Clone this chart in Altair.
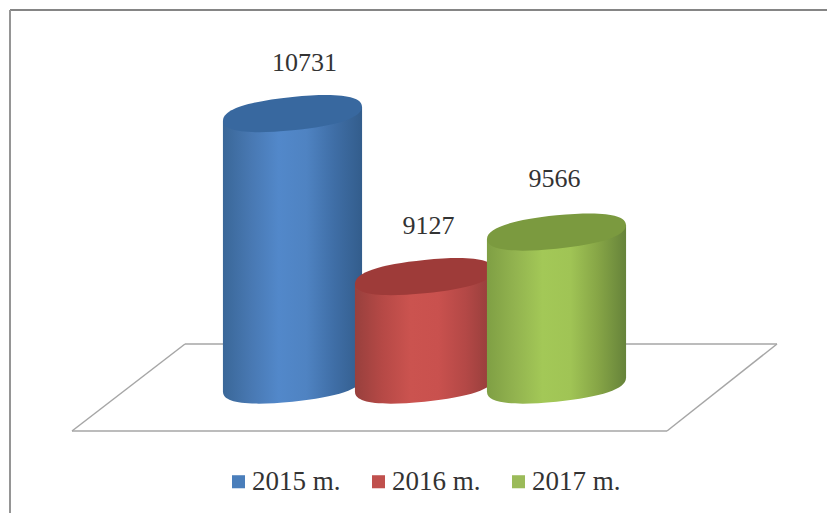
import altair as alt
import pandas as pd

# Values shown on the cylinders
years = ["2015 m.", "2016 m.", "2017 m."]
values = [10731, 9127, 9566]
slots = [0, 1, 2]

# Colour ramps across each cylinder: edge, light band, edge, and the darker lid
legend_colors = ["#4a7ebb", "#c0504d", "#9bbb59"]
body_ramps = [
    ["#3a6798", "#4878b2", "#5288ca", "#4f83c2", "#3f6ea6", "#335d8c"],
    ["#98403d", "#b64946", "#cb534f", "#c9514e", "#b34846", "#923d3a"],
    ["#7f9f44", "#92b34f", "#a3c857", "#a0c455", "#86a546", "#66833a"],
]
lid_colors = ["#38689f", "#9e3b39", "#7b9a3f"]
label_dx = [12, 4, -2]
label_dy = [-51, -51, -53]

# Axis geometry: the cylinders stand on a truncated value axis
base_value = 8060
body_half = 0.527
tilt = 69
canvas_w, canvas_h = 827, 513
x_domain = [-292.5 / 132, (canvas_w - 292.5) / 132]
y_domain = [6800, 11850]

x_scale = alt.Scale(domain=x_domain, range=[0, canvas_w], nice=False, zero=False)
y_scale = alt.Scale(domain=y_domain, range=[canvas_h, 0], nice=False, zero=False)
x_enc = alt.X("x:Q", scale=x_scale, axis=None)
y_enc = alt.Y("y:Q", scale=y_scale, axis=None)


def blunt_ellipse(b=0.24, k=0.65, shear=0.1):
    """Rounded lid outline, sheared so its right end sits higher than its left."""
    def p(u, v):
        return f"{u:.3f},{v - shear * u:.3f}"

    return (
        f"M{p(-1, 0)}"
        f"C{p(-1, -k * b)} {p(-k, -b)} {p(0, -b)}"
        f"C{p(k, -b)} {p(1, -k * b)} {p(1, 0)}"
        f"C{p(1, k * b)} {p(k, b)} {p(0, b)}"
        f"C{p(-k, b)} {p(-1, k * b)} {p(-1, 0)}Z"
    )


ellipse = blunt_ellipse()
ellipse_size = (2 * 69.5) ** 2


def ramp(colors):
    n = len(colors) - 1
    return alt.Gradient(
        gradient="linear",
        x1=0, x2=1, y1=0, y2=0,
        stops=[alt.GradientStop(offset=i / n, color=c) for i, c in enumerate(colors)],
    )


def rule(x1, y1, x2, y2, color="#a6a6a6", width=1.5):
    return (
        alt.Chart(pd.DataFrame({"k": [0]}))
        .mark_rule(color=color, strokeWidth=width)
        .encode(x=alt.value(x1), x2=alt.value(x2), y=alt.value(y1), y2=alt.value(y2))
    )


layers = []

# Top and left edges of the frame
layers += [
    rule(10, 10, 827, 10, "#858585", 2),
    rule(10, 10, 10, 513, "#959595", 2),
]

# Floor of the plot
layers += [
    rule(72, 431, 667, 431),
    rule(667, 431, 777, 344),
    rule(777, 344, 185, 344),
    rule(185, 344, 72, 431),
]

# Hidden points that carry the legend
legend_df = pd.DataFrame({"x": slots, "y": [base_value] * 3, "year": years})
layers.append(
    alt.Chart(legend_df)
    .mark_square(size=1, opacity=1)
    .encode(
        x=x_enc,
        y=y_enc,
        color=alt.Color(
            "year:N",
            scale=alt.Scale(domain=years, range=legend_colors),
            legend=alt.Legend(
                title=None,
                orient="none",
                legendX=225,
                legendY=468,
                direction="horizontal",
                symbolType="square",
                symbolSize=170,
                symbolOpacity=1,
                symbolStrokeWidth=0,
                labelFont="Liberation Serif",
                labelFontSize=27,
                labelColor="#333333",
                labelOffset=0,
                columnPadding=24,
                labelLimit=200,
            ),
        ),
    )
)

# Cylinders, back to front
for i, (slot, value) in enumerate(zip(slots, values)):
    body = pd.DataFrame(
        {
            "x": [slot - body_half, slot + body_half],
            "y": [value - tilt, value + tilt],
            "y0": [base_value - tilt, base_value + tilt],
        }
    )
    foot = pd.DataFrame({"x": [slot], "y": [base_value]})
    lid = pd.DataFrame({"x": [slot], "y": [value]})
    label = pd.DataFrame({"x": [slot], "y": [value], "text": [str(value)]})

    layers.append(
        alt.Chart(foot)
        .mark_point(shape=ellipse, size=ellipse_size, filled=True, opacity=1,
                    strokeWidth=0, fill=ramp(body_ramps[i]))
        .encode(x=x_enc, y=y_enc)
    )
    layers.append(
        alt.Chart(body)
        .mark_area(orient="vertical", fill=ramp(body_ramps[i]), opacity=1)
        .encode(x=x_enc, y=y_enc, y2="y0:Q")
    )
    layers.append(
        alt.Chart(lid)
        .mark_point(shape=ellipse, size=ellipse_size, filled=True, opacity=1,
                    strokeWidth=0, fill=lid_colors[i])
        .encode(x=x_enc, y=y_enc)
    )
    layers.append(
        alt.Chart(label)
        .mark_text(font="Liberation Serif", fontSize=26, color="#333333",
                   dx=label_dx[i], dy=label_dy[i])
        .encode(x=x_enc, y=y_enc, text="text:N")
    )

chart = (
    alt.layer(*layers)
    .properties(
        width=canvas_w,
        height=canvas_h,
        padding=0,
        autosize=alt.AutoSizeParams(type="none"),
        background="white",
    )
    .configure_view(stroke=None)
)

chart.save("out.html", embed_options={"renderer": "svg", "actions": False})
